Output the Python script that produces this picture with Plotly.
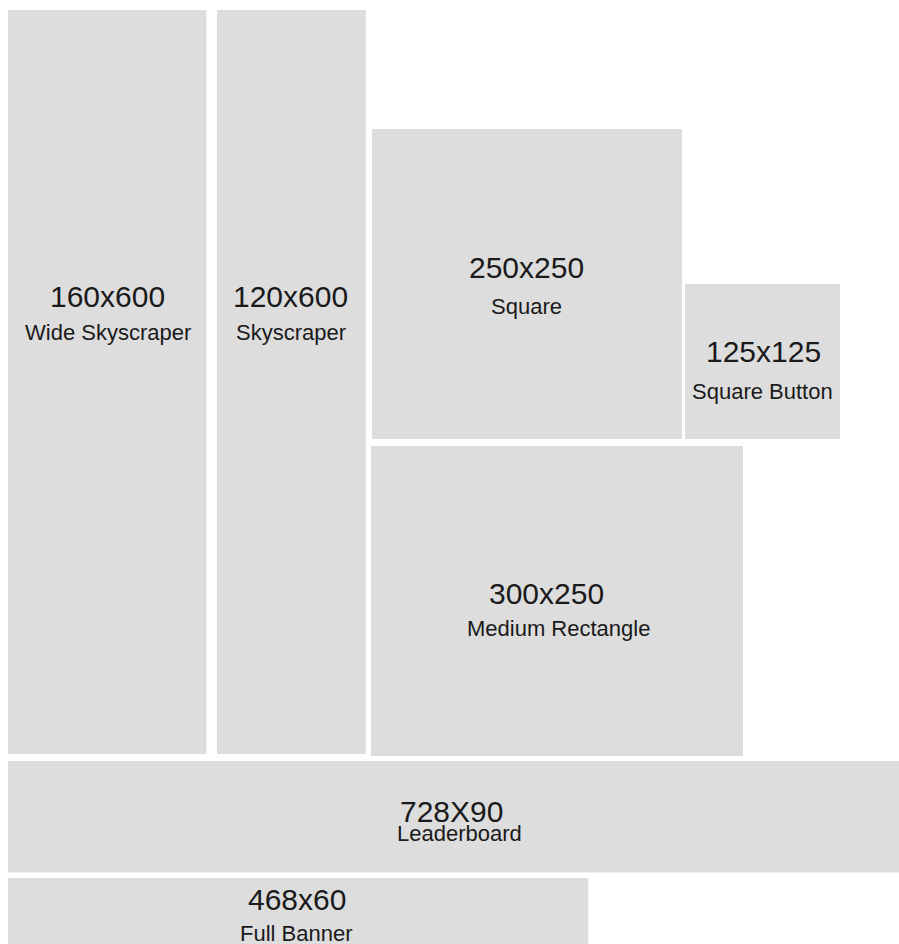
import plotly.graph_objects as go

# Ad unit data (width x height, in pixels of the ad format)
names = ["Wide Skyscraper", "Skyscraper", "Square", "Square Button",
         "Medium Rectangle", "Leaderboard", "Full Banner"]
size_labels = ["160x600", "120x600", "250x250", "125x125", "300x250", "728X90", "468x60"]
widths = [160, 120, 250, 125, 300, 728, 468]
heights = [600, 600, 250, 125, 250, 90, 60]

# Layout placement of each unit on the board (top-left corner, in ad-pixel units)
left = [0, 168.5, 293.5, 546, 292.7, 0, 0]
top = [0, 0, 96, 221, 351.6, 605.6, 700]
# label anchor positions (ad-pixel units)
title_x = [80.6, 228.2, 418, 609, 433.9, 357.7, 233]
title_y = [231, 231, 207.7, 275.8, 470.2, 646, 717.3]
sub_x = [80.6, 228.2, 418.5, 608.5, 444, 364.1, 233]
sub_y = [259.7, 259.7, 239.5, 307.3, 498.8, 664.5, 744.4]

FILL = "#dddddd"
TEXT = "#1a1a1a"
FONT = "Liberation Sans, Arial, sans-serif"

fig = go.Figure()
fig.add_trace(go.Scatter(x=[0], y=[0], mode="markers", marker=dict(opacity=0),
                         hoverinfo="skip", showlegend=False))

for i in range(len(names)):
    fig.add_shape(type="rect", xref="x", yref="y",
                  x0=left[i], x1=left[i] + widths[i],
                  y0=top[i], y1=top[i] + heights[i],
                  fillcolor=FILL, line=dict(width=0), layer="below")
    fig.add_annotation(x=title_x[i], y=title_y[i], xref="x", yref="y",
                       text=size_labels[i], showarrow=False,
                       font=dict(family=FONT, size=30, color=TEXT),
                       xanchor="center", yanchor="middle")
    fig.add_annotation(x=sub_x[i], y=sub_y[i], xref="x", yref="y",
                       text=names[i], showarrow=False,
                       font=dict(family=FONT, size=22, color=TEXT),
                       xanchor="center", yanchor="middle")

fig.update_xaxes(range=[-8 / 1.24, (899 - 8) / 1.24], visible=False, fixedrange=True)
fig.update_yaxes(range=[(944 - 10) / 1.24, -10 / 1.24], visible=False, fixedrange=True)
fig.update_layout(width=899, height=944, margin=dict(l=0, r=0, t=0, b=0),
                  plot_bgcolor="white", paper_bgcolor="white", showlegend=False)

fig.write_html("out.html",
               config={"responsive": False, "displayModeBar": False},
               post_script="document.body.style.margin='0';document.body.style.overflow='hidden';")
